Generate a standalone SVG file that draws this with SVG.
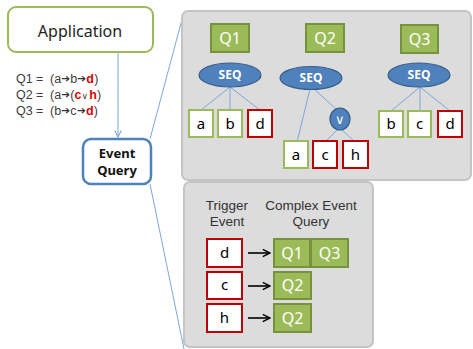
<svg xmlns="http://www.w3.org/2000/svg" width="473" height="349" viewBox="0 0 473 349">
<defs>
<marker id="arrBlue" viewBox="0 0 10 10" refX="9" refY="5" markerWidth="8" markerHeight="8" orient="auto" markerUnits="userSpaceOnUse">
<path d="M1,1 L9,5 L1,9" fill="none" stroke="#7ea6d8" stroke-width="1.3"/>
</marker>
<marker id="arrBlack" viewBox="0 0 10 10" refX="9" refY="5" markerWidth="9" markerHeight="9" orient="auto" markerUnits="userSpaceOnUse">
<path d="M1,1 L9,5 L1,9" fill="none" stroke="#000" stroke-width="1.6"/>
</marker>
<style>
text{font-family:"Noto Sans","Liberation Sans",sans-serif;}
.panel{fill:#dcdcdc;stroke:#c4c4c4;stroke-width:2;}
.qbox{fill:#9bbb59;stroke:#76923c;stroke-width:2;}
.qtxt{fill:#fff;font-size:16px;text-anchor:middle;}
.seq{fill:#4f81bd;stroke:#385d8a;stroke-width:1.2;}
.seqtxt{fill:#fff;font-size:12px;font-weight:bold;text-anchor:middle;}
.gleaf{fill:#fff;stroke:#9bbb59;stroke-width:2;}
.rleaf{fill:#fff;stroke:#c00000;stroke-width:2;}
.ltxt{fill:#000;font-size:15px;text-anchor:middle;}
.tline{stroke:#7ea6d8;stroke-width:1;fill:none;}
.lbl{font-family:"Liberation Sans",sans-serif;fill:#333;font-size:13.5px;text-anchor:middle;}
.eq{font-family:"Liberation Sans",sans-serif;fill:#404040;font-size:12.5px;}
.red{font-family:"Liberation Sans",sans-serif;fill:#e00000;font-size:12.5px;font-weight:bold;}
.arw{font-family:"DejaVu Sans",sans-serif;font-size:10.5px;fill:#333;}
.or{font-family:"DejaVu Sans",sans-serif;font-size:9px;fill:#404040;}
</style>
</defs>

<g id="connectors">
<line x1="118" y1="53" x2="118" y2="137" stroke="#7ea6d8" stroke-width="1" marker-end="url(#arrBlue)"/>
<line x1="150" y1="139" x2="184" y2="12" stroke="#7ea6d8" stroke-width="1"/>
<line x1="150" y1="184" x2="184" y2="349" stroke="#7ea6d8" stroke-width="1"/>
</g>

<g id="application">
<rect x="8" y="7" width="145" height="45" rx="8" fill="#fff" stroke="#9bbb59" stroke-width="2"/>
<text x="80" y="37" text-anchor="middle" font-size="16" fill="#222">Application</text>
</g>

<g id="queries">
<text class="eq" x="16" y="83">Q1</text>
<text class="eq" x="36" y="83">=</text>
<text class="eq" x="50" y="83">(a</text>
<text class="arw" x="61.2" y="82">➔</text>
<text class="eq" x="70.2" y="83">b</text>
<text class="arw" x="77.3" y="82">➔</text>
<text class="red" x="86.3" y="83">d</text>
<text class="eq" x="94.2" y="83">)</text>

<text class="eq" x="16" y="99">Q2</text>
<text class="eq" x="36" y="99">=</text>
<text class="eq" x="50" y="99">(a</text>
<text class="arw" x="61.2" y="98">➔</text>
<text class="eq" x="70.2" y="99">(</text>
<text class="red" x="74.4" y="99">c</text>
<text class="or" x="81.6" y="98.5">∨</text>
<text class="red" x="89.2" y="99">h</text>
<text class="eq" x="97" y="99">)</text>

<text class="eq" x="16" y="115">Q3</text>
<text class="eq" x="36" y="115">=</text>
<text class="eq" x="50" y="115">(b</text>
<text class="arw" x="61.2" y="114">➔</text>
<text class="eq" x="70.2" y="115">c</text>
<text class="arw" x="76.9" y="114">➔</text>
<text class="red" x="85.9" y="115">d</text>
<text class="eq" x="93.8" y="115">)</text>
</g>

<g id="event-query">
<rect x="83" y="139" width="68" height="45" rx="8" fill="#fff" stroke="#4f81bd" stroke-width="2.5"/>
<text x="117" y="158" text-anchor="middle" font-size="13" font-weight="bold" fill="#111">Event</text>
<text x="117" y="175" text-anchor="middle" font-size="13" font-weight="bold" fill="#111">Query</text>
</g>

<g id="tree-panel">
<rect class="panel" x="182" y="11" width="289" height="169" rx="6"/>
</g>

<g id="q1-tree">
<rect class="qbox" x="211" y="24" width="38" height="28"/>
<text class="qtxt" x="230" y="44">Q1</text>
<line class="tline" x1="230" y1="87" x2="201" y2="110"/>
<line class="tline" x1="230" y1="87" x2="230" y2="110"/>
<line class="tline" x1="230" y1="87" x2="260" y2="110"/>
<ellipse class="seq" cx="230" cy="75" rx="31" ry="12"/>
<text class="seqtxt" x="230" y="79">SEQ</text>
<rect class="gleaf" x="189" y="110" width="24" height="27"/>
<text class="ltxt" x="201" y="129">a</text>
<rect class="gleaf" x="218" y="110" width="24" height="27"/>
<text class="ltxt" x="230" y="129">b</text>
<rect class="rleaf" x="248" y="110" width="24" height="27"/>
<text class="ltxt" x="260" y="129">d</text>
</g>

<g id="q2-tree">
<rect class="qbox" x="306" y="24" width="38" height="28"/>
<text class="qtxt" x="325" y="44">Q2</text>
<line class="tline" x1="310" y1="89" x2="297" y2="142"/>
<line class="tline" x1="313" y1="88" x2="337" y2="110"/>
<line class="tline" x1="338" y1="129" x2="325" y2="142"/>
<line class="tline" x1="341" y1="129" x2="355" y2="142"/>
<ellipse class="seq" cx="311" cy="78" rx="31" ry="11.5"/>
<text class="seqtxt" x="311" y="82">SEQ</text>
<ellipse class="seq" cx="340" cy="119" rx="10" ry="11"/>
<text x="340" y="124" text-anchor="middle" font-size="13" fill="#fff">∨</text>
<rect class="gleaf" x="284" y="141" width="24" height="27"/>
<text class="ltxt" x="296" y="160">a</text>
<rect class="rleaf" x="313" y="141" width="24" height="27"/>
<text class="ltxt" x="325" y="160">c</text>
<rect class="rleaf" x="343" y="141" width="25" height="27"/>
<text class="ltxt" x="355.5" y="160">h</text>
</g>

<g id="q3-tree">
<rect class="qbox" x="401" y="25" width="37" height="28"/>
<text class="qtxt" x="419.5" y="45">Q3</text>
<line class="tline" x1="420" y1="87" x2="391" y2="111"/>
<line class="tline" x1="420" y1="87" x2="420" y2="111"/>
<line class="tline" x1="420" y1="87" x2="450" y2="111"/>
<ellipse class="seq" cx="419" cy="75" rx="31" ry="12"/>
<text class="seqtxt" x="419" y="79">SEQ</text>
<rect class="gleaf" x="379" y="111" width="24" height="26"/>
<text class="ltxt" x="391" y="129">b</text>
<rect class="gleaf" x="408" y="111" width="23" height="26"/>
<text class="ltxt" x="419.5" y="129">c</text>
<rect class="rleaf" x="438" y="111" width="24" height="26"/>
<text class="ltxt" x="450" y="129">d</text>
</g>

<g id="trigger-panel">
<rect class="panel" x="184" y="182" width="189" height="165" rx="6"/>
<text class="lbl" x="227" y="210">Trigger</text>
<text class="lbl" x="227" y="226">Event</text>
<text class="lbl" x="311" y="210">Complex Event</text>
<text class="lbl" x="311" y="226">Query</text>
</g>

<g id="trigger-d">
<rect class="rleaf" x="207" y="239" width="35" height="28"/>
<text class="ltxt" x="224.5" y="258">d</text>
<line x1="248" y1="253" x2="270" y2="253" stroke="#000" stroke-width="1.6" marker-end="url(#arrBlack)"/>
<rect class="qbox" x="274" y="239" width="36" height="28"/>
<text class="qtxt" x="292" y="259">Q1</text>
<rect class="qbox" x="311" y="239" width="37" height="28"/>
<text class="qtxt" x="329.5" y="259">Q3</text>
</g>

<g id="trigger-c">
<rect class="rleaf" x="207" y="272" width="35" height="27"/>
<text class="ltxt" x="224.5" y="290">c</text>
<line x1="248" y1="286" x2="270" y2="286" stroke="#000" stroke-width="1.6" marker-end="url(#arrBlack)"/>
<rect class="qbox" x="274" y="272" width="37" height="27"/>
<text class="qtxt" x="292.5" y="291">Q2</text>
</g>

<g id="trigger-h">
<rect class="rleaf" x="207" y="304" width="35" height="28"/>
<text class="ltxt" x="224.5" y="323">h</text>
<line x1="248" y1="318" x2="270" y2="318" stroke="#000" stroke-width="1.6" marker-end="url(#arrBlack)"/>
<rect class="qbox" x="274" y="304" width="37" height="28"/>
<text class="qtxt" x="292.5" y="324">Q2</text>
</g>
</svg>
